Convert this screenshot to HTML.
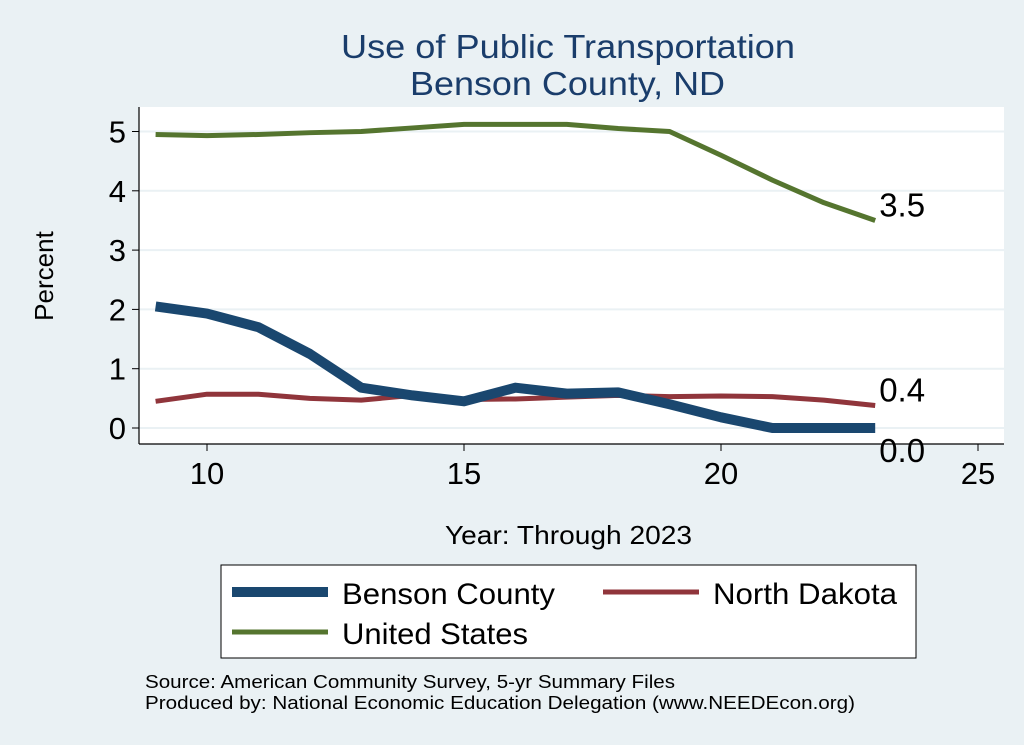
<!DOCTYPE html>
<html><head><meta charset="utf-8"><style>
body{margin:0;background:#eaf1f4;font-family:"Liberation Sans",sans-serif}
svg{display:block}
</style></head><body>
<svg width="1024" height="745" xmlns="http://www.w3.org/2000/svg">
<rect x="0" y="0" width="1024" height="745" fill="#eaf1f4"/>
<rect x="139" y="107" width="865" height="337" fill="#fff"/>
<text x="341" y="58" font-size="33" fill="#1a3d6b" textLength="454" lengthAdjust="spacingAndGlyphs">Use of Public Transportation</text>
<text x="410" y="95" font-size="33" fill="#1a3d6b" textLength="315" lengthAdjust="spacingAndGlyphs">Benson County, ND</text>
<g id="grid"></g><g id="axes"></g><g id="series"></g>
<text x="53" y="276" font-size="26" text-anchor="middle" transform="rotate(-90 53 276)">Percent</text>
<text x="445" y="544" font-size="26" textLength="247" lengthAdjust="spacingAndGlyphs">Year: Through 2023</text>
<g>
<rect x="221" y="565" width="695" height="93" fill="#fff" stroke="#000" stroke-width="1"/>
<line x1="232" y1="592" x2="328" y2="592" stroke="#1a476f" stroke-width="10"/>
<text x="342" y="604" font-size="30" textLength="213" lengthAdjust="spacingAndGlyphs">Benson County</text>
<line x1="603" y1="592" x2="699" y2="592" stroke="#90353b" stroke-width="5"/>
<text x="713" y="604" font-size="30" textLength="184" lengthAdjust="spacingAndGlyphs">North Dakota</text>
<line x1="232" y1="632" x2="328" y2="632" stroke="#55752f" stroke-width="5"/>
<text x="342" y="644" font-size="30" textLength="186" lengthAdjust="spacingAndGlyphs">United States</text>
</g>
<text x="145" y="688" font-size="18.5" textLength="530" lengthAdjust="spacingAndGlyphs">Source: American Community Survey, 5-yr Summary Files</text>
<text x="145" y="709" font-size="18.5" textLength="710" lengthAdjust="spacingAndGlyphs">Produced by: National Economic Education Delegation (www.NEEDEcon.org)</text>
</svg>
<script>
const years=[9,10,11,12,13,14,15,16,17,18,19,20,21,22,23];
const benson=[2.05,1.93,1.7,1.25,0.68,0.55,0.45,0.68,0.58,0.6,0.4,0.18,0.0,0.0,0.0];
const nd=[0.45,0.57,0.57,0.5,0.47,0.55,0.48,0.49,0.52,0.55,0.53,0.54,0.53,0.47,0.38];
const us=[4.95,4.93,4.95,4.98,5.0,5.06,5.12,5.12,5.12,5.05,5.0,4.6,4.18,3.8,3.5];
const xTicks=[10,15,20,25];
const yTicks=[0,1,2,3,4,5];
const NS="http://www.w3.org/2000/svg";
const xs=v=>207+(v-10)*51.4;
const ys=v=>428-v*59.3;
function mk(t,a,p){const e=document.createElementNS(NS,t);for(const k in a)e.setAttribute(k,a[k]);p.appendChild(e);return e;}
const grid=document.getElementById('grid'),axes=document.getElementById('axes'),ser=document.getElementById('series');
mk('line',{x1:139,y1:107,x2:139,y2:444,stroke:'#000','stroke-width':1.2},axes);
mk('line',{x1:139,y1:444,x2:1004,y2:444,stroke:'#000','stroke-width':1.2},axes);
yTicks.forEach(v=>{
 const g=mk('line',{x1:139,y1:ys(v),x2:1004,y2:ys(v),stroke:'#eaf1f4','stroke-width':2},grid);
 
 
 mk('line',{x1:132,y1:ys(v),x2:139,y2:ys(v),stroke:'#000'},axes);
 const t=mk('text',{x:126,y:ys(v)+11,'font-size':31,'text-anchor':'end'},axes);t.textContent=v;
 
 
});
xTicks.forEach(v=>{
 mk('line',{x1:xs(v),y1:444,x2:xs(v),y2:451,stroke:'#000'},axes);
 const t=mk('text',{x:xs(v),y:484,'font-size':31,'text-anchor':'middle'},axes);t.textContent=v;
 
 
});
function line(vals,color,w,name){
 const p=mk('polyline',{points:years.map((y,i)=>xs(y)+','+ys(vals[i])).join(' '),fill:'none',stroke:color,'stroke-width':w,'stroke-linejoin':'round'},ser);
 
 
 const n=vals.length-1;
 const t=mk('text',{x:xs(years[n])+4,y:ys(vals[n])+(name==='line-benson'?34:-4),'font-size':33},ser);
 t.textContent=vals[n].toFixed(1);
 
 
}
line(nd,'#90353b',5,'line-north-dakota');
line(benson,'#1a476f',10,'line-benson');
line(us,'#55752f',5,'line-united-states');
</script>
</body></html>
